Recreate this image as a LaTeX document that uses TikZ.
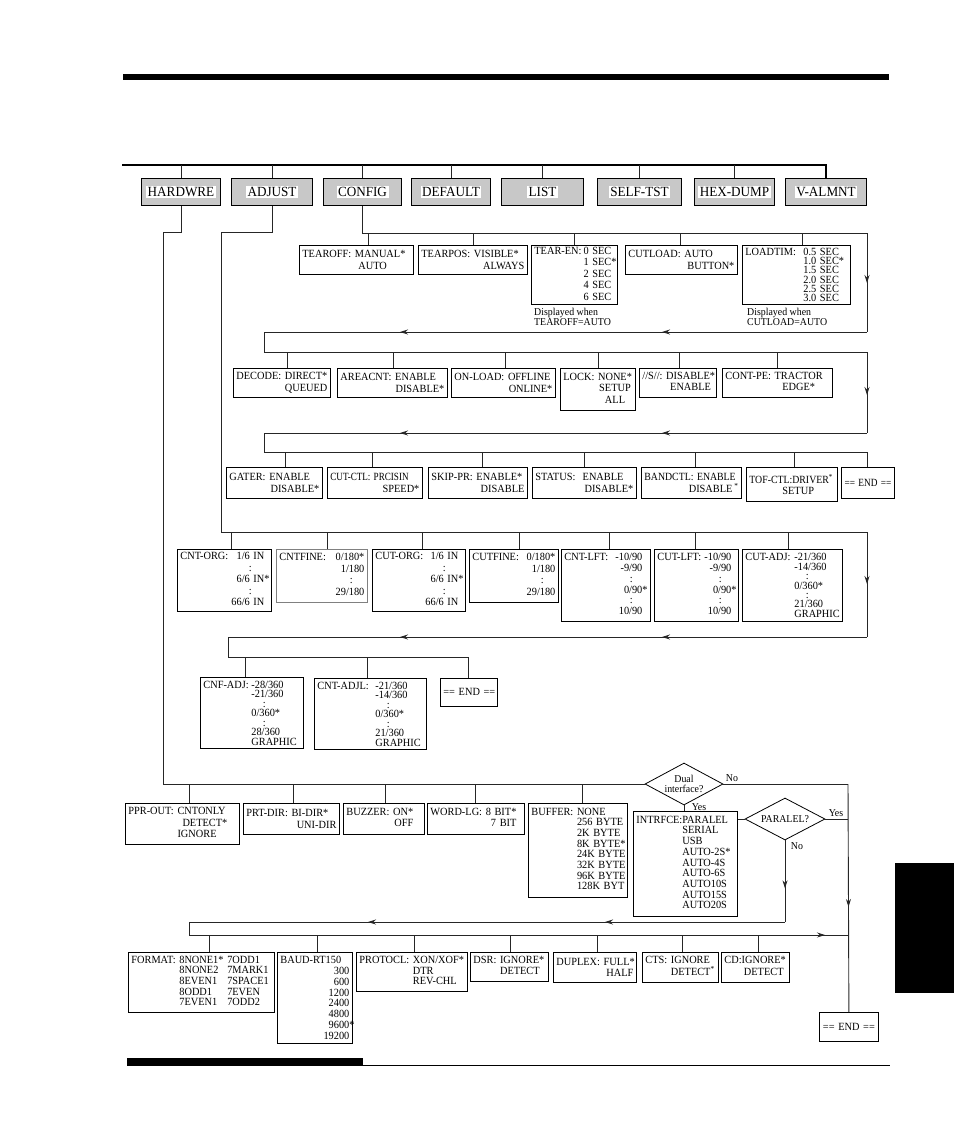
\documentclass[tikz,border=0pt]{standalone}
\usepackage{fontspec}
\usepackage{graphicx}
\setmainfont{Liberation Serif}[FakeStretch=0.94]
\usetikzlibrary{arrows.meta,shapes.geometric,decorations.markings}
\definecolor{topgray}{RGB}{200,200,200}
\setlength{\fboxsep}{1.5pt}
\newcommand\rr[1]{\hspace*{0pt plus 1filll}#1}
\newcommand\vd[1]{\makebox[#1][c]{:}}
\newcommand\lab[2]{\makebox[#1][l]{#2}}
\newcommand\tight{\lineskiplimit=-20pt\relax}
\newcommand\sq[2][0.9]{\scalebox{#1}[1]{#2}}
\newcommand\boxat[7][]{\pgfmathsetmacro\tw{#5-6}\node[bx,minimum width=#5pt,minimum height=#6pt,text width=\tw pt,#1] (#2) at (#3,#4) {#7};}
\newcommand\stub[3]{\coordinate (#1t) at (#2,#3);\draw[ln] (#1t) -- (#1.north -| #1t);}
\tikzset{
  ln/.style={line width=0.9pt, black!85},
  bx/.style={draw, line width=0.8pt, rectangle, anchor=north west, inner sep=0pt, align=left,
    font=\fontsize{11}{11.5}\selectfont},
  topbx/.style={draw, line width=1pt, fill=topgray, anchor=north west, inner sep=0pt,
    minimum height=27pt, font=\fontsize{14}{15}\selectfont},
  dia/.style={draw, diamond, aspect=1.9, inner sep=0pt, line width=0.8pt, fill=white, align=center,
    font=\fontsize{10.5}{10.5}\selectfont},
  lbl/.style={inner sep=0pt, font=\fontsize{10.5}{11}\selectfont},
  note/.style={inner sep=0pt, anchor=north west, align=left, font=\fontsize{10.5}{10}\selectfont},
  arra/.style={postaction={decorate}, decoration={markings,
    mark=at position #1 with {\arrow{Stealth[length=8pt,width=5pt]}}}},
  arrb/.style 2 args={postaction={decorate}, decoration={markings,
    mark=at position #1 with {\arrow{Stealth[length=8pt,width=5pt]}},
    mark=at position #2 with {\arrow{Stealth[length=8pt,width=5pt]}}}},
}
\begin{document}
\begin{tikzpicture}[x=1pt,y=-1pt]
\useasboundingbox (0,0) rectangle (954,1145);
% page decoration
\fill (123,74) rectangle (889,80);
\fill (127,1058) rectangle (363,1066);
\draw[line width=1pt] (363,1065.5) -- (890,1065.5);
\fill (895,863) rectangle (954,993);

% top level menu
\node[topbx,minimum width=79pt] (hw) at (141,178) {\colorbox{white}{HARDWRE}};
\node[topbx,minimum width=81pt] (adj) at (231,178) {\colorbox{white}{ADJUST}};
\node[topbx,minimum width=78pt] (cfg) at (323,178) {\colorbox{white}{CONFIG}};
\node[topbx,minimum width=79pt] (dfl) at (411,178) {\colorbox{white}{DEFAULT}};
\node[topbx,minimum width=82pt] (lst) at (501,178) {\colorbox{white}{LIST}};
\node[topbx,minimum width=84pt] (slf) at (597,178) {\colorbox{white}{SELF-TST}};
\node[topbx,minimum width=80pt] (hex) at (694,178) {\colorbox{white}{HEX-DUMP}};
\node[topbx,minimum width=81pt] (val) at (785,178) {\colorbox{white}{V-ALMNT}};
\coordinate (busL) at (122,165);
\draw[line width=2pt] (busL) -| (val.north);
\foreach \n in {hw,adj,cfg,dfl,lst,slf,hex} \draw[ln] (\n.north) -- (\n.north |- busL);

% ---------- CONFIG ----------
\boxat{tearoff}{299}{245}{114}{29}{TEAROFF:~MANUAL*\\\hspace*{56pt}AUTO}
\boxat{tearpos}{418}{245}{109}{29}{TEARPOS:~VISIBLE*\\\rr{ALWAYS}}
\boxat{tearen}{531}{245}{86}{59}{\begin{tabular}{@{}l@{\hspace{2pt}}l@{}}TEAR-EN: & 0~SEC\\ & 1~SEC*\\ & 2~SEC\\ & 4~SEC\\ & 6~SEC\end{tabular}}
\boxat{cutload}{625}{245}{112}{29}{CUTLOAD:~AUTO\\\rr{BUTTON*}}
\boxat[font=\fontsize{11}{9.2}\selectfont]{loadtim}{742}{245}{108}{59}{\tight\lab{58pt}{LOADTIM:}0.5~SEC\\\lab{58pt}{}1.0~SEC*\\\lab{58pt}{}1.5~SEC\\\lab{58pt}{}2.0~SEC\\\lab{58pt}{}2.5~SEC\\\lab{58pt}{}3.0~SEC}
\node[note] (noteA) at (534,308) {Displayed when\\TEAROFF=AUTO};
\node[note] (noteB) at (747,308) {Displayed when\\CUTLOAD=AUTO};

\boxat{decode}{233}{368}{97}{29}{DECODE:~DIRECT*\\\rr{QUEUED}}
\boxat{areacnt}{337}{368}{110}{29}{AREACNT:~ENABLE\\\rr{DISABLE*}}
\boxat{onload}{451}{368}{104}{29}{ON-LOAD:~OFFLINE\\\rr{ONLINE*}}
\boxat{lock}{560}{368}{75}{42}{\begin{tabular}{@{}l@{~}c@{}}LOCK: & NONE*\\ & SETUP\\ & ALL\end{tabular}}
\boxat{sss}{639}{368}{77}{29}{\begin{tabular}{@{}l@{~}c@{}}//S//: & DISABLE*\\ & ENABLE\end{tabular}}
\boxat{contpe}{722}{368}{110}{29}{\begin{tabular}{@{}l@{~}c@{}}CONT-PE: & TRACTOR\\ & EDGE*\end{tabular}}

\boxat{gater}{226}{467}{96}{31}{GATER:~ENABLE\\\rr{DISABLE*}}
\boxat{cutctl}{327}{467}{95}{31}{\sq[0.88]{CUT-CTL:~PRCISIN}\\\rr{SPEED*}}
\boxat{skippr}{428}{467}{99}{31}{SKIP-PR:~ENABLE*\\\rr{DISABLE}}
\boxat{status}{532}{467}{104}{31}{STATUS:~~ENABLE\\\rr{DISABLE*}}
\boxat{bandctl}{641}{467}{100}{31}{\sq[0.95]{BANDCTL:~ENABLE}\\\rr{DISABLE\,\textsuperscript{*}}}
\boxat{tofctl}{746}{467}{91}{34}{\sq[0.95]{TOF-CTL:DRIVER\textsuperscript{*}}\\\hspace*{33pt}SETUP}
\boxat[align=center]{cend}{841}{467}{53}{31}{\sq[0.9]{==~END~==}}

\coordinate (c1) at (867,233);
\coordinate (c1b) at (867,332);
\coordinate (c1c) at (264,332);
\coordinate (c2a) at (264,352);
\coordinate (c2) at (867,352);
\coordinate (c2b) at (867,433);
\coordinate (c2c) at (264,433);
\coordinate (c3a) at (264,452);
\draw[ln] (cfg.south) |- (c1);
\draw[ln,arra=50pt] (c1) -- (c1b);
\draw[ln,arrb={205pt}{467pt}] (c1b) -- (c1c);
\draw[ln] (c1c) -- (c2a) -- (c2);
\draw[ln,arra=43pt] (c2) -- (c2b);
\draw[ln,arrb={205pt}{467pt}] (c2b) -- (c2c);
\draw[ln] (c2c) -- (c3a) -| (cend.north);
\stub{tearoff}{368}{233}\stub{tearpos}{473}{233}\stub{tearen}{574}{233}\stub{cutload}{680}{233}\stub{loadtim}{802}{233}
\stub{decode}{287}{352}\stub{areacnt}{393}{352}\stub{onload}{505}{352}\stub{lock}{598}{352}\stub{sss}{679}{352}\stub{contpe}{777}{352}
\stub{gater}{285}{452}\stub{cutctl}{372}{452}\stub{skippr}{482}{452}\stub{status}{584}{452}\stub{bandctl}{695}{452}\stub{tofctl}{794}{452}

% ---------- ADJUST ----------
\boxat{cntorg}{177}{549}{94}{62}{\begin{tabular*}{\linewidth}{@{}l@{\extracolsep{\fill}}r@{\hspace{4pt}}}CNT-ORG: & 1/6~IN\\ & \vd{28pt}\\ & 6/6~IN\rlap{*}\\ & \vd{28pt}\\ & 66/6~IN\end{tabular*}}
\boxat[draw=gray]{cntfine}{276}{549}{91}{53}{\begin{tabular*}{\linewidth}{@{}l@{\extracolsep{\fill}}r@{}}CNTFINE: & 0/180*\\ & 1/180\\ & \vd{26pt}\\ & 29/180\end{tabular*}}
\boxat{cutorg}{372}{549}{93}{62}{\begin{tabular*}{\linewidth}{@{}l@{\extracolsep{\fill}}r@{\hspace{4pt}}}CUT-ORG: & 1/6~IN\\ & \vd{28pt}\\ & 6/6~IN\rlap{*}\\ & \vd{28pt}\\ & 66/6~IN\end{tabular*}}
\boxat{cutfine}{469}{549}{89}{53}{\begin{tabular*}{\linewidth}{@{}l@{\extracolsep{\fill}}r@{}}CUTFINE: & 0/180*\\ & 1/180\\ & \vd{26pt}\\ & 29/180\end{tabular*}}
\boxat{cntlft}{561}{549}{89}{72}{\def\arraystretch{0.95}\begin{tabular*}{\linewidth}{@{}l@{\extracolsep{\fill}}r@{\hspace{5pt}}}CNT-LFT: & -10/90\\ & -9/90\\ & \vd{22pt}\\ & 0/90\rlap{*}\\ & \vd{22pt}\\ & 10/90\end{tabular*}}
\boxat{cutlft}{654}{549}{84}{72}{\def\arraystretch{0.95}\begin{tabular*}{\linewidth}{@{}l@{\extracolsep{\fill}}r@{\hspace{4pt}}}CUT-LFT: & -10/90\\ & -9/90\\ & \vd{22pt}\\ & 0/90\rlap{*}\\ & \vd{22pt}\\ & 10/90\end{tabular*}}
\boxat[font=\fontsize{11}{9.4}\selectfont]{cutadj}{742}{549}{100}{72}{\tight\lab{49pt}{CUT-ADJ:}-21/360\\\lab{49pt}{}-14/360\\\lab{49pt}{}\vd{26pt}\\\lab{49pt}{}0/360*\\\lab{49pt}{}\vd{26pt}\\\lab{49pt}{}21/360\\\lab{49pt}{}GRAPHIC}

\boxat[font=\fontsize{11}{9.5}\selectfont]{cnfadj}{200}{677}{103}{71}{\tight\lab{48pt}{CNF-ADJ:}-28/360\\\lab{48pt}{}-21/360\\\lab{48pt}{}\vd{26pt}\\\lab{48pt}{}0/360*\\\lab{48pt}{}\vd{26pt}\\\lab{48pt}{}28/360\\\lab{48pt}{}GRAPHIC}
\boxat[font=\fontsize{11}{9.5}\selectfont]{cntadjl}{314}{678}{112}{71}{\tight\lab{58pt}{CNT-ADJL:}-21/360\\\lab{58pt}{}-14/360\\\lab{58pt}{}\vd{26pt}\\\lab{58pt}{}0/360*\\\lab{58pt}{}\vd{26pt}\\\lab{58pt}{}21/360\\\lab{58pt}{}GRAPHIC}
\boxat[align=center]{aend}{440}{678}{57}{28}{==~END~==}

\coordinate (a1) at (221,232);
\coordinate (a2) at (221,532);
\coordinate (a3) at (867,532);
\coordinate (a4) at (867,637);
\coordinate (a5) at (228,637);
\coordinate (a6) at (228,657);
\draw[ln] (adj.south) |- (a1) -- (a2) -- (a3);
\draw[ln,arra=52pt] (a3) -- (a4);
\draw[ln,arrb={205pt}{467pt}] (a4) -- (a5);
\draw[ln] (a5) -- (a6) -| (aend.north);
\stub{cntorg}{231}{532}\stub{cntfine}{327}{532}\stub{cutorg}{422}{532}\stub{cutfine}{519}{532}\stub{cntlft}{609}{532}\stub{cutlft}{695}{532}\stub{cutadj}{788}{532}
\stub{cnfadj}{245}{657}\stub{cntadjl}{367}{657}

% ---------- HARDWRE ----------
\boxat{pprout}{125}{803}{114}{41}{\begin{tabular}{@{}l@{~}l@{}}PPR-OUT: & CNTONLY\\ & \hspace*{5pt}DETECT*\\ & IGNORE\end{tabular}}
\boxat{prtdir}{243}{803}{96}{31}{PRT-DIR:~BI-DIR*\\\rr{UNI-DIR}}
\boxat{buzzer}{343}{803}{81}{31}{\begin{tabular}{@{}l@{~}r@{}}BUZZER: & ON*\\ & OFF\end{tabular}}
\boxat{wordlg}{427}{803}{97}{31}{\begin{tabular}{@{}l@{~}r@{}}WORD-LG: & 8~BIT*\\ & 7~BIT\end{tabular}}
\boxat{buffer}{528}{803}{99}{94}{\def\arraystretch{0.93}\begin{tabular}{@{}l@{~}l@{}}BUFFER: & NONE\\ & 256~BYTE\\ & 2K~BYTE\\ & 8K~BYTE*\\ & 24K~BYTE\\ & 32K~BYTE\\ & 96K~BYTE\\ & 128K~BYT\end{tabular}}
\boxat{intr}{633}{811}{104}{105}{\def\arraystretch{0.93}\begin{tabular}{@{}l@{}l@{}}INTRFCE: & PARALEL\\ & SERIAL\\ & USB\\ & AUTO-2S*\\ & AUTO-4S\\ & AUTO-6S\\ & AUTO10S\\ & AUTO15S\\ & AUTO20S\end{tabular}}
\node[dia,minimum width=78pt,minimum height=42pt] (dual) at (684,784) {Dual\\interface?};
\node[dia,minimum width=80pt,minimum height=42pt] (par) at (785,819) {PARALEL?};
\node[lbl] (no1) at (732,778) {No};
\node[lbl] (yes1) at (699,807) {Yes};
\node[lbl] (yes2) at (836,813) {Yes};
\node[lbl] (no2) at (797,846) {No};

\boxat{format}{128}{952}{146}{60}{\def\arraystretch{0.92}\begin{tabular}{@{}l@{~}l@{~}l@{}}FORMAT: & 8NONE1* & 7ODD1\\ & 8NONE2 & 7MARK1\\ & 8EVEN1 & 7SPACE1\\ & 8ODD1 & 7EVEN\\ & 7EVEN1 & 7ODD2\end{tabular}}
\boxat[font=\fontsize{11}{10.9}\selectfont]{baud}{277}{952}{75}{91}{BAUD-RT150\\\rr{300\hspace*{5pt}}\\\rr{600\hspace*{5pt}}\\\rr{1200\hspace*{5pt}}\\\rr{2400\hspace*{5pt}}\\\rr{4800\hspace*{5pt}}\\\rr{9600\rlap{*}\hspace*{5pt}}\\\rr{19200\hspace*{5pt}}}
\boxat{protocl}{356}{952}{111}{39}{\def\arraystretch{0.92}\begin{tabular}{@{}l@{~}l@{}}PROTOCL: & XON/XOF*\\ & DTR\\ & REV-CHL\end{tabular}}
\boxat{dsr}{470}{952}{78}{29}{\begin{tabular}{@{}l@{~}l@{}}DSR: & IGNORE*\\ & DETECT\end{tabular}}
\boxat{duplex}{553}{952}{83}{30}{DUPLEX:~FULL*\\\rr{HALF}}
\boxat{cts}{642}{952}{76}{30}{\begin{tabular}{@{}l@{~}l@{}}CTS: & IGNORE\\ & DETECT\rlap{\textsuperscript{*}}\end{tabular}}
\boxat{cd}{721}{952}{68}{30}{\begin{tabular}{@{}l@{}c@{}}CD: & IGNORE*\\ & DETECT\end{tabular}}
\boxat[align=center]{hend}{819}{1012}{59}{29}{==~END~==}

\coordinate (h1) at (163,232);
\coordinate (h2) at (163,784);
\coordinate (r1) at (848,784);
\coordinate (p2) at (189,922);
\coordinate (p3) at (189,935);
\coordinate (p4) at (848,935);
\draw[ln] (hw.south) |- (h1) -- (h2) -- (dual.west);
\draw[ln] (dual.east) -- (r1);
\draw[ln,arra=123pt] (r1) -- (hend.north);
\draw[ln] (dual.south) -- (dual.south |- intr.north);
\draw[ln] (par.west -| intr.east) -- (par.west);
\draw[ln] (par.east) -- (par.east -| r1);
\draw[ln,arra=48pt] (par.south) -- (par.south |- p2);
\draw[ln,arrb={180pt}{417pt}] (par.south |- p2) -- (p2);
\draw[ln] (p2) -- (p3);
\draw[ln,arra=636pt] (p3) -- (p4);
\stub{pprout}{189}{784}\stub{prtdir}{293}{784}\stub{buzzer}{385}{784}\stub{wordlg}{475}{784}\stub{buffer}{582}{784}
\stub{format}{209}{935}\stub{baud}{317}{935}\stub{protocl}{414}{935}\stub{dsr}{510}{935}\stub{duplex}{597}{935}\stub{cts}{682}{935}\stub{cd}{758}{935}
\end{tikzpicture}
\end{document}
